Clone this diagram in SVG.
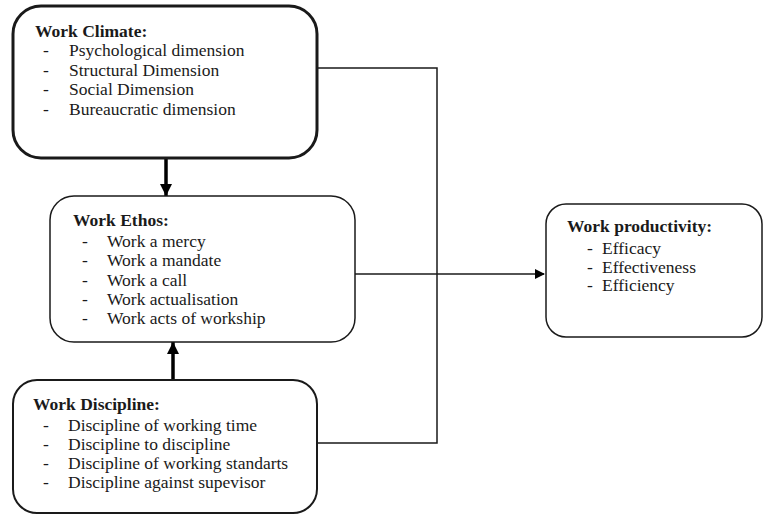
<svg xmlns="http://www.w3.org/2000/svg" width="764" height="514" viewBox="0 0 764 514">
<style>
.box{fill:#fff;stroke:#1a1a1a}
text{font-family:'Liberation Serif','Times New Roman','DejaVu Serif',serif;font-size:17.5px;fill:#1a1a1a}
.t{font-weight:bold}
.c{fill:none;stroke:#1a1a1a;stroke-width:1.5}
.thick{fill:none;stroke:#000;stroke-width:3.5}
</style>
<defs>
<marker id="ah" markerWidth="10" markerHeight="10" refX="9" refY="5" orient="auto" markerUnits="userSpaceOnUse"><path d="M0,0 L10,5 L0,10 Z" fill="#000"/></marker>
<marker id="ahb" markerWidth="12" markerHeight="13" refX="12" refY="6" orient="auto" markerUnits="userSpaceOnUse"><path d="M0,0 L12,6 L0,12 Z" fill="#000"/></marker>
</defs>
<g id="connectors">
<path class="c" d="M317,68 H437 V443 H317"/>
<path class="c" d="M355,274 H544" marker-end="url(#ah)"/>
<path class="thick" d="M166,158 V196" marker-end="url(#ahb)"/>
<path class="thick" d="M173,380 V342" marker-end="url(#ahb)"/>
</g>
<g id="work-climate">
<rect class="box" x="13" y="6" width="304" height="152" rx="28" stroke-width="3"/>
<text class="t" x="35" y="37">Work Climate:</text>
<text x="43" y="56">-</text><text x="69" y="56">Psychological dimension</text>
<text x="43" y="75.5">-</text><text x="69" y="75.5">Structural Dimension</text>
<text x="43" y="95">-</text><text x="69" y="95">Social Dimension</text>
<text x="43" y="114.5">-</text><text x="69" y="114.5">Bureaucratic dimension</text>
</g>
<g id="work-ethos">
<rect class="box" x="50" y="196" width="305" height="146" rx="24" stroke-width="1.5"/>
<text class="t" x="73" y="226">Work Ethos:</text>
<text x="82" y="247">-</text><text x="107" y="247">Work a mercy</text>
<text x="82" y="266">-</text><text x="107" y="266">Work a mandate</text>
<text x="82" y="285.5">-</text><text x="107" y="285.5">Work a call</text>
<text x="82" y="305">-</text><text x="107" y="305">Work actualisation</text>
<text x="82" y="324">-</text><text x="107" y="324">Work acts of workship</text>
</g>
<g id="work-discipline">
<rect class="box" x="13" y="380" width="304" height="133" rx="24" stroke-width="2"/>
<text class="t" x="33" y="410">Work Discipline:</text>
<text x="43" y="431">-</text><text x="68" y="431">Discipline of working time</text>
<text x="43" y="450">-</text><text x="68" y="450">Discipline to discipline</text>
<text x="43" y="469">-</text><text x="68" y="469">Discipline of working standarts</text>
<text x="43" y="488">-</text><text x="68" y="488">Discipline against supevisor</text>
</g>
<g id="work-productivity">
<rect class="box" x="546" y="204" width="216" height="133" rx="20" stroke-width="1.5"/>
<text class="t" x="567" y="232">Work productivity:</text>
<text x="587" y="254">-</text><text x="602" y="254">Efficacy</text>
<text x="587" y="272.5">-</text><text x="602" y="272.5">Effectiveness</text>
<text x="587" y="291">-</text><text x="602" y="291">Efficiency</text>
</g>
</svg>
